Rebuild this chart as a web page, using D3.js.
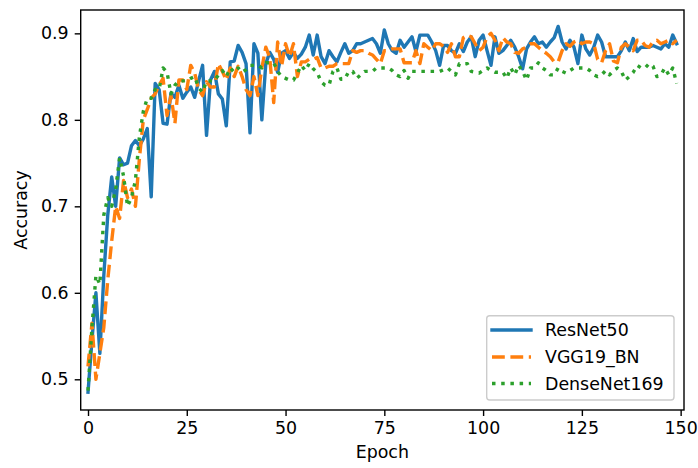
<!DOCTYPE html>
<html>
<head>
<meta charset="utf-8">
<script src="https://cdn.jsdelivr.net/npm/d3@7"></script>
<style>
  html, body { margin: 0; padding: 0; background: #fff; }
  svg { display: block; }
  text { font-family: "DejaVu Sans", sans-serif; fill: #000; }
</style>
</head>
<body>
<svg id="chart" width="698" height="468"></svg>
<script>
const epochs = d3.range(150);

const resnet50 = [
  0.485,0.545,0.600,0.530,0.620,0.690,0.734,0.700,0.756,0.748,
  0.750,0.770,0.776,0.770,0.778,0.790,0.711,0.842,0.835,0.796,
  0.795,0.831,0.826,0.840,0.825,0.832,0.838,0.826,0.845,0.863,
  0.782,0.846,0.856,0.830,0.824,0.793,0.867,0.868,0.886,0.878,
  0.865,0.785,0.888,0.877,0.800,0.865,0.878,0.870,0.855,0.877,
  0.880,0.871,0.878,0.871,0.876,0.884,0.898,0.875,0.898,0.873,
  0.865,0.880,0.873,0.867,0.878,0.888,0.877,0.880,0.888,0.888,
  0.890,0.892,0.894,0.888,0.877,0.904,0.888,0.880,0.877,0.892,
  0.884,0.890,0.896,0.879,0.898,0.898,0.898,0.890,0.880,0.863,
  0.886,0.886,0.880,0.877,0.888,0.879,0.890,0.896,0.873,0.892,
  0.898,0.880,0.863,0.896,0.877,0.880,0.886,0.892,0.884,0.873,
  0.859,0.882,0.890,0.896,0.888,0.890,0.884,0.890,0.895,0.908,
  0.890,0.882,0.892,0.884,0.865,0.898,0.882,0.875,0.884,0.898,
  0.890,0.873,0.873,0.873,0.873,0.880,0.890,0.880,0.894,0.879,
  0.884,0.884,0.884,0.886,0.884,0.882,0.888,0.884,0.898,0.888
];

const vgg19bn = [
  0.515,0.565,0.500,0.530,0.560,0.615,0.660,0.700,0.686,0.730,
  0.710,0.720,0.700,0.755,0.800,0.812,0.825,0.830,0.840,0.848,
  0.805,0.828,0.796,0.846,0.846,0.835,0.863,0.854,0.835,0.828,
  0.844,0.838,0.838,0.865,0.856,0.846,0.860,0.850,0.862,0.850,
  0.835,0.828,0.850,0.828,0.860,0.884,0.872,0.820,0.890,0.862,
  0.888,0.873,0.888,0.850,0.867,0.867,0.870,0.870,0.872,0.860,
  0.860,0.862,0.862,0.865,0.865,0.865,0.865,0.880,0.878,0.880,
  0.880,0.877,0.875,0.870,0.865,0.880,0.880,0.882,0.882,0.882,
  0.866,0.866,0.866,0.880,0.865,0.888,0.884,0.880,0.888,0.888,
  0.885,0.878,0.888,0.873,0.873,0.895,0.898,0.896,0.888,0.880,
  0.884,0.896,0.900,0.892,0.880,0.895,0.890,0.888,0.878,0.877,
  0.882,0.884,0.888,0.888,0.884,0.880,0.877,0.873,0.867,0.867,
  0.880,0.888,0.885,0.890,0.892,0.888,0.890,0.890,0.888,0.870,
  0.866,0.880,0.888,0.868,0.866,0.884,0.888,0.884,0.880,0.892,
  0.892,0.886,0.884,0.890,0.892,0.888,0.890,0.892,0.888,0.892
];

const densenet169 = [
  0.487,0.560,0.620,0.610,0.690,0.710,0.700,0.720,0.756,0.735,
  0.700,0.710,0.730,0.780,0.810,0.825,0.825,0.835,0.835,0.860,
  0.855,0.830,0.840,0.845,0.845,0.845,0.848,0.850,0.837,0.832,
  0.845,0.845,0.845,0.852,0.857,0.850,0.860,0.855,0.860,0.855,
  0.858,0.863,0.863,0.863,0.860,0.866,0.866,0.866,0.856,0.850,
  0.848,0.846,0.846,0.854,0.863,0.857,0.865,0.859,0.855,0.844,
  0.840,0.840,0.856,0.860,0.847,0.847,0.856,0.856,0.848,0.852,
  0.856,0.856,0.856,0.860,0.860,0.860,0.860,0.857,0.852,0.850,
  0.857,0.848,0.856,0.856,0.856,0.856,0.856,0.856,0.856,0.856,
  0.858,0.860,0.856,0.852,0.865,0.865,0.865,0.856,0.855,0.854,
  0.857,0.860,0.857,0.855,0.855,0.855,0.848,0.860,0.852,0.863,
  0.856,0.846,0.860,0.860,0.866,0.860,0.857,0.852,0.852,0.860,
  0.856,0.854,0.857,0.860,0.860,0.860,0.860,0.857,0.852,0.850,
  0.852,0.857,0.852,0.857,0.860,0.856,0.846,0.850,0.855,0.863,
  0.860,0.860,0.865,0.862,0.850,0.852,0.860,0.852,0.860,0.842
];

const seriesNames = ["ResNet50", "VGG19_BN", "DenseNet169"];
const xTicks = [0, 25, 50, 75, 100, 125, 150];
const yTicks = [0.5, 0.6, 0.7, 0.8, 0.9];

const series = [
  {name: seriesNames[0], values: resnet50, color: "#1f77b4", dash: null},
  {name: seriesNames[1], values: vgg19bn, color: "#ff7f0e", dash: "12.8,5.6"},
  {name: seriesNames[2], values: densenet169, color: "#2ca02c", dash: "3.5,5.7"}
];

const L = 80.7, R = 684, T = 10, B = 410;
const lw = 3.4;
const fs = 17.4;

const svg = d3.select("#chart");
const x = d3.scaleLinear().domain([-1.85, 150.85]).range([L, R]);
const y = d3.scaleLinear().domain([0.4645, 0.927]).range([B, T]);

svg.append("defs").append("clipPath").attr("id", "clip")
  .append("rect").attr("x", L).attr("y", T).attr("width", R - L).attr("height", B - T);

const line = d3.line().x((d, i) => x(epochs[i])).y(d => y(d));

const g = svg.append("g").attr("clip-path", "url(#clip)");
series.forEach(s => {
  g.append("path")
    .datum(s.values)
    .attr("d", line)
    .attr("fill", "none")
    .attr("stroke", s.color)
    .attr("stroke-width", lw)
    .attr("stroke-linejoin", "round")
    .attr("stroke-linecap", s.dash ? "butt" : "square")
    .attr("stroke-dasharray", s.dash);
});

// Axes
const xAxis = d3.axisBottom(x).tickValues(xTicks).tickFormat(d3.format("d")).tickSize(6).tickPadding(6);
const yAxis = d3.axisLeft(y).tickValues(yTicks).tickFormat(d3.format(".1f")).tickSize(6).tickPadding(6);

const gx = svg.append("g").attr("transform", `translate(0,${B})`).call(xAxis);
const gy = svg.append("g").attr("transform", `translate(${L},0)`).call(yAxis);
[gx, gy].forEach(a => {
  a.select(".domain").remove();
  a.selectAll(".tick line").attr("stroke", "#000").attr("stroke-width", 1.4);
  a.selectAll(".tick text").attr("font-size", fs).attr("font-family", "DejaVu Sans").attr("fill", "#000");
});

// Spines
svg.append("rect").attr("x", L).attr("y", T).attr("width", R - L).attr("height", B - T)
  .attr("fill", "none").attr("stroke", "#000").attr("stroke-width", 1.4);

// Axis labels
svg.append("text").attr("x", (L + R) / 2).attr("y", 458).attr("text-anchor", "middle")
  .attr("font-size", fs).text("Epoch");
svg.append("text").attr("transform", `translate(27,${(T + B) / 2}) rotate(-90)`)
  .attr("text-anchor", "middle").attr("font-size", fs).text("Accuracy");

// Legend
const lg = svg.append("g");
lg.append("rect").attr("x", 486.7).attr("y", 315.7).attr("width", 187.3).attr("height", 84.3)
  .attr("rx", 3).attr("fill", "#fff").attr("fill-opacity", 0.8)
  .attr("stroke", "#cccccc").attr("stroke-width", 1.4);
const rowY = [330, 357, 383.5];
series.forEach((s, i) => {
  lg.append("line").attr("x1", 492).attr("x2", 531).attr("y1", rowY[i]).attr("y2", rowY[i])
    .attr("stroke", s.color).attr("stroke-width", lw)
    .attr("stroke-dasharray", s.dash).attr("stroke-linecap", s.dash ? "butt" : "square");
  lg.append("text").attr("x", 545).attr("y", rowY[i]).attr("dy", "0.36em")
    .attr("font-size", fs).text(s.name);
});
</script>
</body>
</html>
